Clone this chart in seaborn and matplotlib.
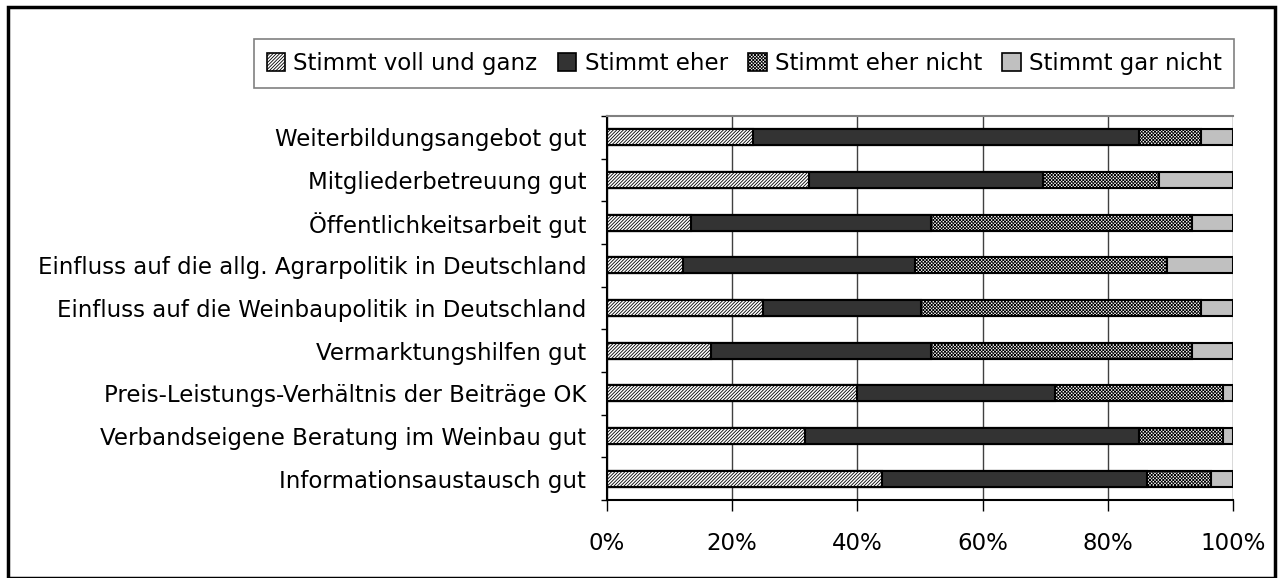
import numpy as np
import pandas as pd
import matplotlib
matplotlib.use("Agg")
import matplotlib.pyplot as plt
from matplotlib.patches import Patch, Rectangle
import seaborn as sns

# data (percent per answer category)
items = ["Weiterbildungsangebot gut", "Mitgliederbetreuung gut", "Öffentlichkeitsarbeit gut",
         "Einfluss auf die allg. Agrarpolitik in Deutschland",
         "Einfluss auf die Weinbaupolitik in Deutschland", "Vermarktungshilfen gut",
         "Preis-Leistungs-Verhältnis der Beiträge OK",
         "Verbandseigene Beratung im Weinbau gut", "Informationsaustausch gut"]
voll = [23.3, 32.3, 13.4, 12.1, 24.9, 16.6, 40.0, 31.6, 44.0]
eher = [61.7, 37.4, 38.3, 37.1, 25.3, 35.1, 31.6, 53.4, 42.2]
eher_nicht = [9.9, 18.5, 41.7, 40.3, 44.7, 41.7, 26.8, 13.4, 10.3]
gar_nicht = [5.1, 11.8, 6.6, 10.5, 5.1, 6.6, 1.6, 1.6, 3.5]
series = ["Stimmt voll und ganz", "Stimmt eher", "Stimmt eher nicht", "Stimmt gar nicht"]

df = pd.DataFrame({"item": items, series[0]: voll, series[1]: eher,
                   series[2]: eher_nicht, series[3]: gar_nicht})
cum = df[series].cumsum(axis=1)

sns.set_style("white")
plt.rcParams["font.family"] = ["DejaVu Sans"]
plt.rcParams["text.color"] = "black"
plt.rcParams["xtick.labelcolor"] = "black"
plt.rcParams["ytick.labelcolor"] = "black"
plt.rcParams["hatch.linewidth"] = 0.6
FS = 16.5

styles = {
    series[0]: dict(color="white", hatch="//////////"),
    series[1]: dict(color="#333333", hatch=None),
    series[2]: dict(color="white", hatch="xxxxxxxxxx"),
    series[3]: dict(color="#c0c0c0", hatch=None),
}

fig = plt.figure(figsize=(12.79, 5.78), dpi=100)
ax = fig.add_axes([0.4746, 0.1349, 0.4894, 0.6644])

ax.set_axisbelow(True)
ax.grid(axis="x", color="#404040", linewidth=1)

# draw cumulative bars from the largest down so every segment shows
for s in series[::-1]:
    sns.barplot(x=cum[s], y=df["item"], orient="h", ax=ax, width=0.375,
                color=styles[s]["color"], edgecolor="black", linewidth=1.5,
                saturation=1)
    if styles[s]["hatch"]:
        for p in ax.patches[-len(items):]:
            p.set_hatch(styles[s]["hatch"])

ax.set_xlim(0, 100)
ax.set_ylim(len(items) - 0.5, -0.5)
ax.set_xticks(np.arange(0, 101, 20))
ax.set_xticklabels([f"{v}%" for v in range(0, 101, 20)], fontsize=FS, color="black")
ax.tick_params(axis="x", direction="out", length=8, width=1, color="black", pad=15,
               bottom=True)
ax.tick_params(axis="y", which="major", length=0, labelsize=FS, pad=15,
               labelcolor="black")
ax.set_yticks(np.arange(-0.5, len(items), 1), minor=True)
ax.tick_params(axis="y", which="minor", direction="out", length=4, width=1,
               color="black", left=True)
ax.set_xlabel("")
ax.set_ylabel("")

for side in ["left", "bottom"]:
    ax.spines[side].set_color("black")
    ax.spines[side].set_linewidth(1.5)
ax.spines["top"].set_color("#808080")
ax.spines["top"].set_linewidth(1.5)
ax.spines["right"].set_visible(False)

handles = [Patch(facecolor=styles[s]["color"], edgecolor="black",
                 hatch=styles[s]["hatch"], linewidth=1.2, label=s) for s in series]
leg = fig.legend(handles=handles, loc="center", bbox_to_anchor=(0.582, 0.890),
                 ncol=4, fontsize=FS, frameon=True, fancybox=False,
                 handlelength=0.8, handleheight=0.8, handletextpad=0.35,
                 columnspacing=0.9, borderpad=0.55, borderaxespad=0)
leg.get_frame().set_edgecolor("#606060")
leg.get_frame().set_linewidth(1.2)
for t in leg.get_texts():
    t.set_color("black")

fig.patches.append(Rectangle((8 / 1279, 0.5 / 578), 1267 / 1279, 571 / 578,
                             transform=fig.transFigure, fill=False,
                             edgecolor="black", linewidth=2.5))

fig.savefig("out.png", dpi=100)
